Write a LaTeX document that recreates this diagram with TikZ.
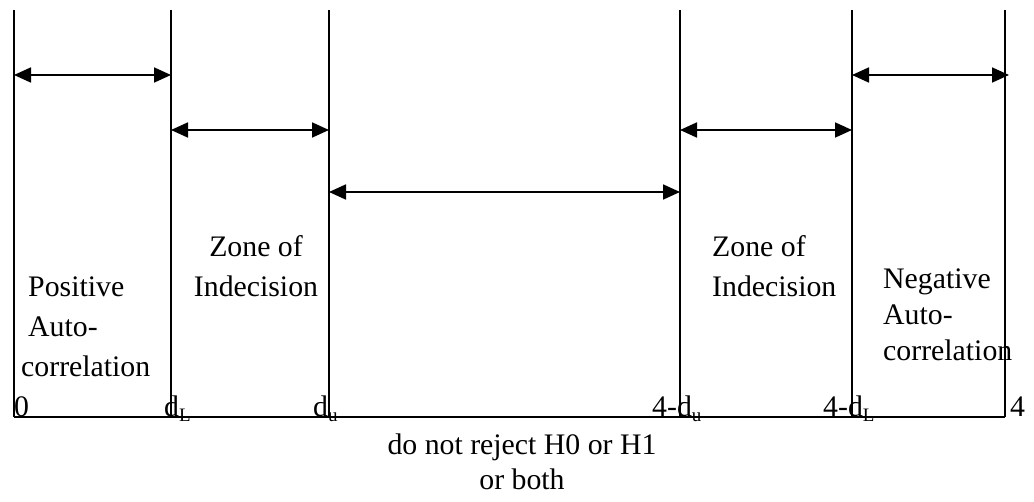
\documentclass[tikz,border=0pt]{standalone}
\usepackage{fontspec}
\setmainfont{Liberation Serif}
\usetikzlibrary{arrows.meta}
\newcommand{\lowsub}[1]{\raisebox{-5pt}{\fontsize{19}{19}\selectfont #1}}
\begin{document}
\begin{tikzpicture}[x=1pt,y=-1pt,
  bar/.style={line width=1.8pt},
  span/.style={line width=1.8pt,{Triangle[length=17pt,width=15pt]}-{Triangle[length=17pt,width=15pt]}},
  lbl/.style={inner sep=0pt,anchor=base west,font=\fontsize{29.8}{40}\selectfont},
  clbl/.style={lbl,anchor=base},
]
\useasboundingbox (0,0) rectangle (1034,502);
% vertical boundaries
\coordinate (t0) at (14,10);   \coordinate (b0) at (14,417);
\coordinate (t1) at (171,10);  \coordinate (b1) at (171,417);
\coordinate (t2) at (329,10);  \coordinate (b2) at (329,417);
\coordinate (t3) at (680,10);  \coordinate (b3) at (680,417);
\coordinate (t4) at (852,10);  \coordinate (b4) at (852,417);
\coordinate (t5) at (1005,10); \coordinate (b5) at (1005,417);
\foreach \i in {0,...,5} \draw[bar] (t\i) -- (b\i);
\draw[bar] (b0) -- (b5);
% span arrows
\coordinate (s1a) at (14,75);  \coordinate (s1b) at (171,75);
\coordinate (s2a) at (171,130); \coordinate (s2b) at (329,130);
\coordinate (s3a) at (329,192); \coordinate (s3b) at (680,192);
\coordinate (s4a) at (680,130); \coordinate (s4b) at (852,130);
\coordinate (s5a) at (852,75);  \coordinate (s5b) at (1009,75);
\draw[span] (s1a) -- (s1b);
\draw[span] (s2a) -- (s2b);
\draw[span] (s3a) -- (s3b);
\draw[span] (s4a) -- (s4b);
\draw[span] (s5a) -- (s5b);
% zone labels
\node[lbl] (pos) at (21,297) {\begin{tabular}[t]{@{}l@{}}\hspace{7pt}Positive\\\hspace{7pt}Auto-\\correlation\end{tabular}};
\node[clbl] (zone1) at (256,257) {\begin{tabular}[t]{@{}c@{}}Zone of\\Indecision\end{tabular}};
\node[lbl] (zone2) at (712,257) {\begin{tabular}[t]{@{}l@{}}Zone of\\Indecision\end{tabular}};
\node[lbl,font=\fontsize{29.8}{36}\selectfont] (neg) at (883,289) {\begin{tabular}[t]{@{}l@{}}Negative\\Auto-\\correlation\end{tabular}};
% axis labels
\node[lbl] (l0) at (14,417) {0};
\node[lbl] (l1) at (164,417) {d\lowsub{L}};
\node[lbl] (l2) at (313,417) {d\lowsub{u}};
\node[lbl] (l3) at (652,417) {4-d\lowsub{u}};
\node[lbl] (l4) at (823,417) {4-d\lowsub{L}};
\node[lbl] (l5) at (1010,417) {4};
\node[clbl,font=\fontsize{29.8}{35}\selectfont] (mid) at (522,455) {\begin{tabular}[t]{@{}c@{}}do not reject H0 or H1\\or both\end{tabular}};
\end{tikzpicture}
\end{document}
